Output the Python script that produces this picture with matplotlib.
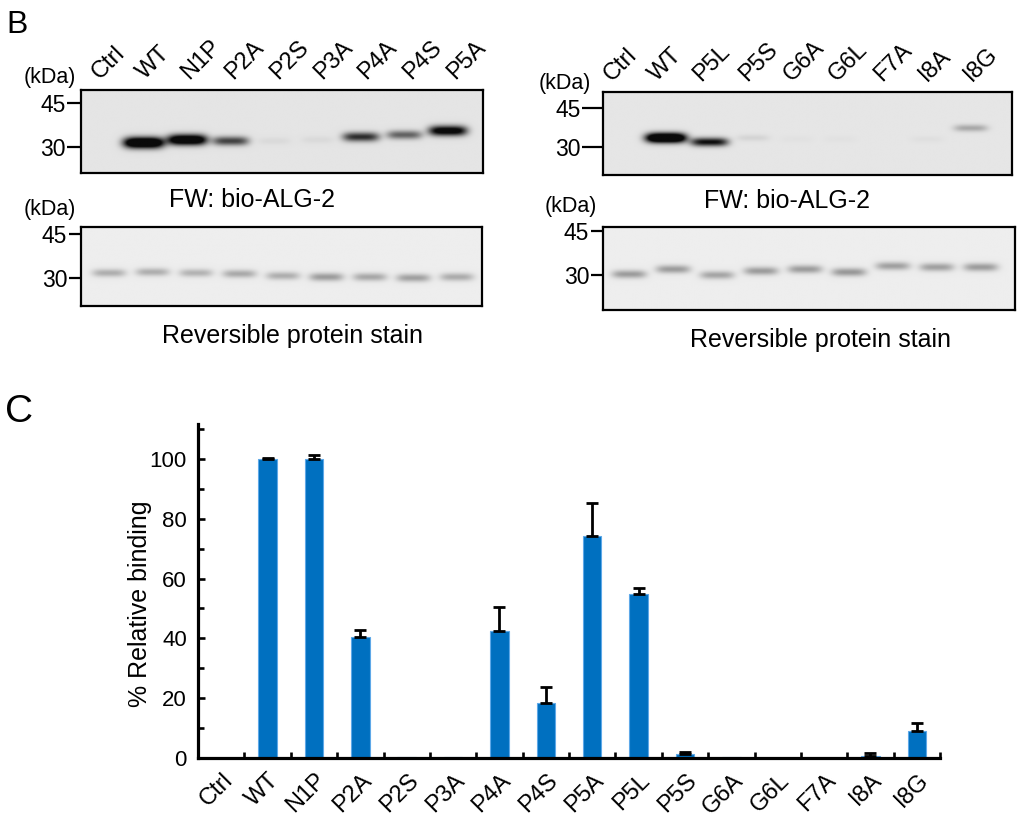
import numpy as np
import matplotlib
matplotlib.use('Agg')
from matplotlib import pyplot as plt
from matplotlib.transforms import ScaledTranslation

plt.rcParams['font.family'] = ['Liberation Sans', 'DejaVu Sans']

W, H = 1024, 818

# panel B, left membranes
left_lanes = ['Ctrl', 'WT', 'N1P', 'P2A', 'P2S', 'P3A', 'P4A', 'P4S', 'P5A']
left_fw_signal = [0.0, 1.6, 1.45, 0.75, 0.05, 0.05, 0.85, 0.6, 1.2]
left_fw_kda = [32.0, 31.4, 32.4, 32.0, 32.0, 32.4, 33.4, 34.1, 35.5]
left_stain_signal = [0.28, 0.28, 0.26, 0.3, 0.28, 0.36, 0.31, 0.34, 0.29]
left_stain_kda = [31.7, 32.0, 31.7, 31.4, 30.7, 30.3, 30.3, 30.0, 30.3]

# panel B, right membranes
right_lanes = ['Ctrl', 'WT', 'P5L', 'P5S', 'G6A', 'G6L', 'F7A', 'I8A', 'I8G']
right_fw_signal = [0.0, 1.7, 1.0, 0.08, 0.02, 0.02, 0.0, 0.03, 0.28]
right_fw_kda = [32.0, 33.5, 31.9, 33.5, 33.0, 33.0, 33.0, 33.0, 37.3]
right_stain_signal = [0.36, 0.36, 0.32, 0.36, 0.36, 0.38, 0.34, 0.34, 0.36]
right_stain_kda = [30.3, 32.0, 30.0, 31.4, 32.0, 31.0, 33.1, 32.7, 32.7]

# panel C
constructs = ['Ctrl', 'WT', 'N1P', 'P2A', 'P2S', 'P3A', 'P4A', 'P4S',
              'P5A', 'P5L', 'P5S', 'G6A', 'G6L', 'F7A', 'I8A', 'I8G']
binding = [0, 100, 100, 40.6, 0.3, 0.2, 42.6, 18.5,
           74.2, 54.7, 1.4, 0.2, 0, 0, 0.7, 9.1]
sem = [0, 0.2, 1.2, 2.2, 0, 0, 8.0, 5.1,
       11.0, 2.3, 0.7, 0, 0, 0, 0.9, 2.7]


def px_axes(fig, x0, y0, x1, y1):
    return fig.add_axes([x0 / W, 1 - y1 / H, (x1 - x0) / W, (y1 - y0) / H])


def ftext(fig, x, y, s, **kw):
    fig.text(x / W, 1 - y / H, s, **kw)


def blot(ax, signal, kda, xlim, ylim, bg, tick_len):
    xs = np.linspace(xlim[0], xlim[1], 600)
    ys = np.linspace(ylim[0], ylim[1], 240)
    X, Y = np.meshgrid(xs, ys)
    dark = np.zeros_like(X)
    for i, (s, k) in enumerate(zip(signal, kda)):
        sy = 1.25 + 0.4 * min(s, 1.6)
        hw = 0.37 + 0.06 * min(s, 1.6)
        dark += s * np.exp(-((X - i) / hw) ** 4) * np.exp(-((Y - k) / sy) ** 2)
    dark = np.clip(dark, 0, 1)
    img = bg * (1 - dark) + 0.04 * dark
    ax.imshow(img, cmap='gray', vmin=0, vmax=1, origin='lower', aspect='auto',
              extent=(xlim[0], xlim[1], ylim[0], ylim[1]), interpolation='bilinear')
    ax.set_xlim(xlim)
    ax.set_ylim(ylim)
    ax.set_xticks([])
    ax.set_yticks([30, 45])
    ax.set_yticklabels(['30', '45'])
    ax.tick_params(axis='y', direction='out', length=tick_len, width=1.6,
                   labelsize=16.5, pad=1)
    for sp in ax.spines.values():
        sp.set_linewidth(1.6)


def lane_labels(ax, lanes, x0, k):
    for i, name in enumerate(lanes):
        ax.annotate(name, xy=(x0 + i * k, 1), xycoords=('data', 'axes fraction'),
                    xytext=(0, 10), textcoords='offset pixels', rotation=45,
                    rotation_mode='anchor', ha='left', va='baseline',
                    fontsize=17, annotation_clip=False)


fig = plt.figure(figsize=(W / 100, H / 100), dpi=100)

# B left
ax1 = px_axes(fig, 81, 90, 483, 173)
blot(ax1, left_fw_signal, left_fw_kda, (-0.44, 8.8), (21.1, 49.4), 0.895, 10)
lane_labels(ax1, left_lanes, 0.0, 1.02)
ax2 = px_axes(fig, 81, 227, 482, 306)
blot(ax2, left_stain_signal, left_stain_kda, (-0.64, 8.57), (20.4, 47.4), 0.93, 9)

# B right
ax3 = px_axes(fig, 603, 92, 1012, 175)
blot(ax3, right_fw_signal, right_fw_kda, (-0.44, 8.94), (19.2, 51.2), 0.9, 15)
lane_labels(ax3, right_lanes, -0.25, 1.035)
ax4 = px_axes(fig, 603, 227, 1015, 310)
blot(ax4, right_stain_signal, right_stain_kda, (-0.59, 8.77), (18.1, 46.4), 0.93, 9)

ftext(fig, 6, 33, 'B', fontsize=23, va='baseline')
ftext(fig, 5, 422, 'C', fontsize=28, va='baseline')
for x, y in [(50, 78), (50, 210), (565, 83), (571, 207)]:
    ftext(fig, x, y, '(kDa)', fontsize=15.5, ha='center', va='center')
ftext(fig, 252, 207, 'FW: bio-ALG-2', fontsize=18, ha='center', va='baseline')
ftext(fig, 787, 208, 'FW: bio-ALG-2', fontsize=18, ha='center', va='baseline')
ftext(fig, 293, 343, 'Reversible protein stain', fontsize=18, ha='center', va='baseline')
ftext(fig, 820, 347, 'Reversible protein stain', fontsize=18, ha='center', va='baseline')

# C bar chart
ax = px_axes(fig, 198, 424, 940, 758)
x = np.arange(len(constructs))
vals = np.array(binding)
errs = np.array(sem)
ax.bar(x, vals, width=0.4, color='#0070c0', edgecolor='#5ea8e8', linewidth=0.8, zorder=2)
has = errs > 0
ax.errorbar(x[has], vals[has], yerr=[np.zeros(has.sum()), errs[has]], fmt='none',
            ecolor='black', elinewidth=2, capsize=4, capthick=2, zorder=3)
ax.set_xlim(-0.5, 15.5)
ax.set_ylim(0, 111.7)
ax.spines[['top', 'right']].set_visible(False)
for sp in ['left', 'bottom']:
    ax.spines[sp].set_linewidth(2.3)
ax.set_yticks(np.arange(0, 101, 20))
ax.set_yticks(np.arange(10, 111, 20), minor=True)
ax.tick_params(axis='y', which='major', direction='in', length=5, width=1.9,
               labelsize=16, pad=8)
ax.tick_params(axis='y', which='minor', direction='in', length=4.5, width=1.9)
ax.set_xticks(x)
ax.set_xticklabels(constructs, rotation=45, ha='right', rotation_mode='anchor',
                   fontsize=17)
ax.set_xticks(np.arange(0.5, 15.6, 1), minor=True)
ax.tick_params(axis='x', which='major', length=0, pad=8)
ax.tick_params(axis='x', which='minor', direction='in', length=4.5, width=1.9)
shift = ScaledTranslation(0.005, 0, fig.dpi_scale_trans)
for lbl in ax.get_xticklabels():
    lbl.set_transform(lbl.get_transform() + shift)
ax.text(-0.078, 0.461, '% Relative binding', transform=ax.transAxes, rotation=90,
        ha='center', va='center', fontsize=18)

fig.savefig('out.png', dpi=100)
